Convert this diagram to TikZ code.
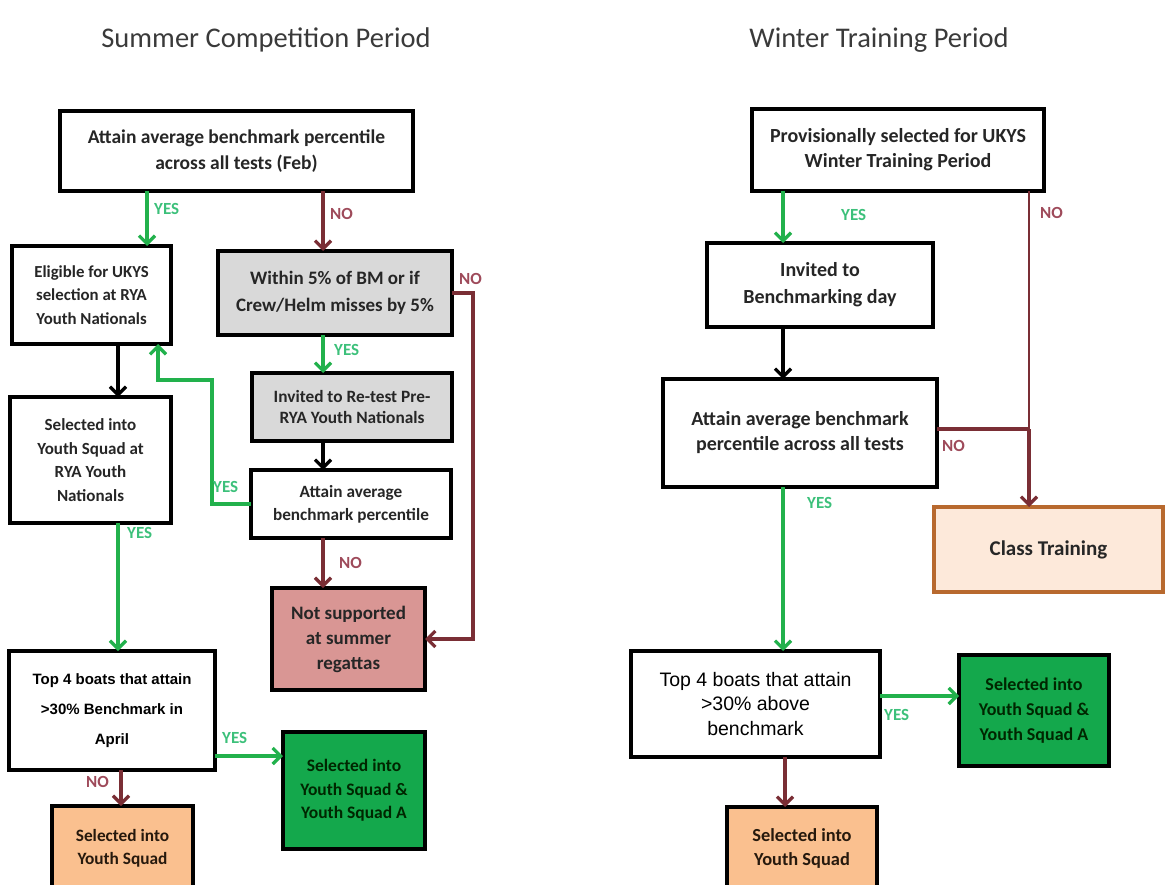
\documentclass[tikz,border=0pt]{standalone}
\usepackage{fontspec}
\setmainfont{Carlito}
\newfontfamily\arialfont{Liberation Sans}
\usetikzlibrary{arrows.meta}
\definecolor{yesgreen}{HTML}{22B14C}
\definecolor{yeslabel}{HTML}{3CC07A}
\definecolor{nored}{HTML}{7A2E35}
\definecolor{nolabel}{HTML}{9E4A5A}
\definecolor{greybox}{HTML}{D9D9D9}
\definecolor{pinkbox}{HTML}{D99694}
\definecolor{greenbox}{HTML}{14A84C}
\definecolor{orangebox}{HTML}{FAC08F}
\definecolor{lightorange}{HTML}{FDE9DA}
\definecolor{orangeborder}{HTML}{B8692E}
\definecolor{txt}{HTML}{262626}
\definecolor{titlegray}{HTML}{3A3A3A}
\tikzset{
  box/.style={draw=black, line width=3.6pt, fill=white, rectangle, align=center, inner sep=2pt, outer sep=0pt, text=txt},
  fs/.style 2 args={font=\bfseries\fontsize{#1}{#2}\selectfont},
  yesline/.style={draw=yesgreen, line width=3.3pt},
  noline/.style={draw=nored, line width=3.3pt},
  blkline/.style={draw=black, line width=3.3pt},
  tip/.style={-{Straight Barb[length=8pt,width=16pt]}},
  yeslab/.style={text=yeslabel, font=\bfseries\fontsize{17}{19}\selectfont, inner sep=0pt},
  nolab/.style={text=nolabel, font=\bfseries\fontsize{17}{19}\selectfont, inner sep=0pt},
  titlelab/.style={text=titlegray, font=\fontsize{28.5}{31}\selectfont, inner sep=0pt},
}
\begin{document}
\begin{tikzpicture}[x=1pt,y=-1pt]
\useasboundingbox (0,0) rectangle (1166,885);
% titles
\node[titlelab] (t1) at (266,40) {Summer Competition Period};
\node[titlelab] (t2) at (879,40) {Winter Training Period};
% ---------- left chart
\node[box, fs={19.5}{25.5}, minimum width=353, minimum height=80] (A) at (236.5,151) {Attain average benchmark percentile\\across all tests (Feb)};
\node[box, fs={16.8}{23.3}, minimum width=159, minimum height=98] (B) at (91.5,295) {Eligible for UKYS\\selection at RYA\\Youth Nationals};
\node[box, fs={19}{26.5}, fill=greybox, minimum width=234, minimum height=84] (C) at (335,293) {Within 5\% of BM or if\\Crew/Helm misses by 5\%};
\node[box, fs={17.3}{21.7}, fill=greybox, minimum width=200, minimum height=68] (D) at (352,407) {Invited to Re-test Pre-\\RYA Youth Nationals};
\node[box, fs={17.2}{23}, minimum width=200, minimum height=68] (E) at (351,504) {Attain average\\benchmark percentile};
\node[box, fs={17}{23.7}, minimum width=161, minimum height=126] (F) at (90.5,460) {Selected into\\Youth Squad at\\RYA Youth\\Nationals};
\node[box, font=\arialfont\bfseries\fontsize{15}{30}\selectfont, text=black, minimum width=206, minimum height=119] (G) at (112,710.5) {Top 4 boats that attain\\>30\% Benchmark in\\April};
\node[box, fs={17.5}{23.5}, fill=greenbox, text=black!85!green, minimum width=142, minimum height=117] (H) at (354,790.5) {Selected into\\Youth Squad \&\\Youth Squad A};
\node[box, fs={17.3}{23.3}, fill=orangebox, text=black!80!brown, minimum width=141, minimum height=84] (I) at (122.5,848) {Selected into\\Youth Squad};
\node[box, fs={19}{25}, fill=pinkbox, minimum width=153, minimum height=102] (J) at (348.5,639) {Not supported\\at summer\\regattas};
% ---------- right chart
\node[box, fs={20}{25}, minimum width=292, minimum height=82] (K) at (898,150) {Provisionally selected for UKYS\\Winter Training Period};
\node[box, fs={20}{26.7}, minimum width=226, minimum height=84] (L) at (820,285) {Invited to\\Benchmarking day};
\node[box, fs={20}{25}, minimum width=274, minimum height=108] (M) at (800,433) {Attain average benchmark\\percentile across all tests};
\node[box, fs={21}{25}, draw=orangeborder, fill=lightorange, minimum width=229, minimum height=85] (N) at (1048.5,549.5) {Class Training};
\node[box, font=\arialfont\fontsize{19.5}{24.5}\selectfont, text=black, minimum width=249, minimum height=106] (O) at (755.5,704) {Top 4 boats that attain\\>30\% above\\benchmark};
\node[box, fs={18}{25}, fill=greenbox, text=black!85!green, minimum width=150, minimum height=111] (P) at (1034,710.5) {Selected into\\Youth Squad \&\\Youth Squad A};
\node[box, fs={18.4}{23.3}, fill=orangebox, text=black!80!brown, minimum width=150, minimum height=83] (Q) at (802,848.5) {Selected into\\Youth Squad};
% ---------- helper coordinates
\coordinate (xab) at (147,0);
\coordinate (xc) at (323,0);
\coordinate (xcr) at (473,0);
\coordinate (xey) at (212,0);
\coordinate (yby) at (0,380);
\coordinate (xbx) at (158,0);
\coordinate (xbf) at (118,0);
\coordinate (xgi) at (121,0);
\coordinate (ygh) at (0,756);
\coordinate (xk) at (783,0);
\coordinate (jn) at (1029,429);
\coordinate (yop) at (0,696);
\coordinate (xoq) at (785,0);
% ---------- left connectors
\draw[yesline,tip] (A.south -| xab) -- (B.north -| xab);
\node[yeslab, anchor=west] (lyes1) at (154,209) {YES};
\draw[noline,tip] (A.south -| xc) -- (C.north -| xc);
\node[nolab, anchor=west] (lno1) at (330,214) {NO};
\draw[noline,tip] (C.east) -- (C.east -| xcr) -- (xcr |- J.east) -- (J.east);
\node[nolab, anchor=west] (lno2) at (459,279) {NO};
\draw[yesline,tip] (C.south -| xc) -- (D.north -| xc);
\node[yeslab, anchor=west] (lyes2) at (334,350) {YES};
\draw[blkline,tip] (D.south -| xc) -- (E.north -| xc);
\draw[noline,tip] (E.south -| xc) -- (J.north -| xc);
\node[nolab, anchor=west] (lno3) at (339,563) {NO};
\draw[yesline,tip] (E.west) -- (E.west -| xey) -- (xey |- yby) -- (xbx |- yby) -- (xbx |- B.south);
\node[yeslab, anchor=west] (lyes3) at (213,487) {YES};
\draw[blkline,tip] (B.south -| xbf) -- (F.north -| xbf);
\draw[yesline,tip] (F.south -| xbf) -- (G.north -| xbf);
\node[yeslab, anchor=west] (lyes4) at (127,533) {YES};
\draw[yesline,tip] (G.east |- ygh) -- (H.west |- ygh);
\node[yeslab, anchor=west] (lyes5) at (222,738) {YES};
\draw[noline,tip] (G.south -| xgi) -- (I.north -| xgi);
\node[nolab, anchor=east] (lno4) at (109,782) {NO};
% ---------- right connectors
\draw[yesline,tip] (K.south -| xk) -- (L.north -| xk);
\node[yeslab, anchor=west] (lyes6) at (841,215) {YES};
\draw[draw=nored, line width=1.6pt] (K.south -| jn) -- (jn);
\node[nolab, anchor=west] (lno5) at (1040,213) {NO};
\draw[noline] (M.east |- jn) -- (jn);
\draw[noline,tip] (jn) -- (jn |- N.north);
\node[nolab, anchor=west] (lno6) at (942,446) {NO};
\draw[blkline,tip] (L.south -| xk) -- (M.north -| xk);
\draw[yesline,tip] (M.south -| xk) -- (O.north -| xk);
\node[yeslab, anchor=west] (lyes7) at (807,503) {YES};
\draw[yesline,tip] (O.east |- yop) -- (P.west |- yop);
\node[yeslab, anchor=west] (lyes8) at (884,715) {YES};
\draw[noline,tip] (O.south -| xoq) -- (Q.north -| xoq);
\end{tikzpicture}
\end{document}
